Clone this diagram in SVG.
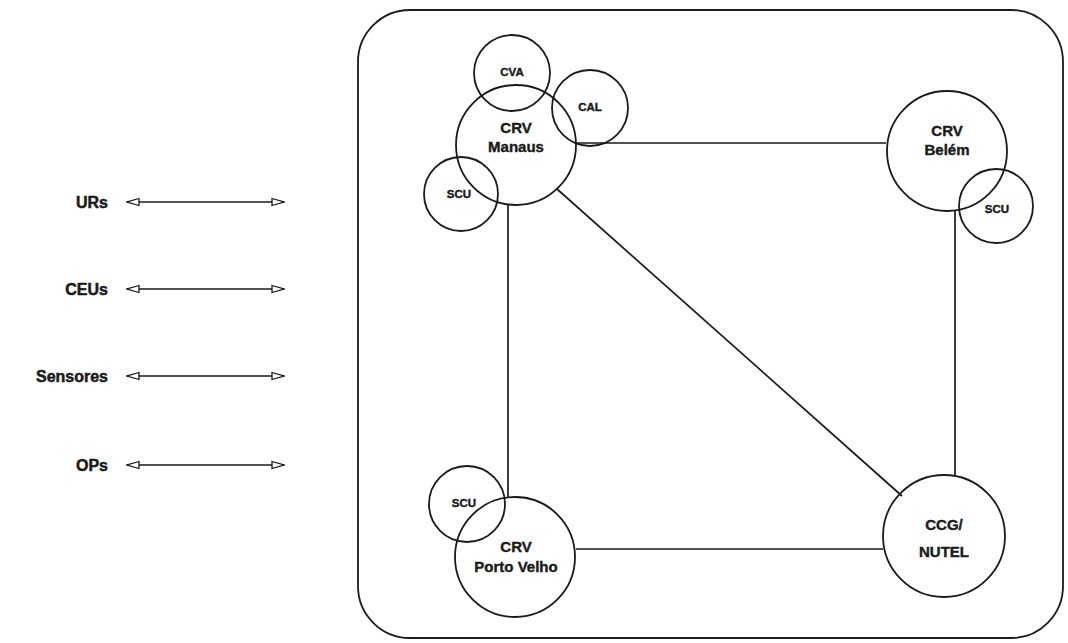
<svg xmlns="http://www.w3.org/2000/svg" width="1068" height="643" viewBox="0 0 1068 643">
<style>
.c{fill:none;stroke:#1a1a1a;stroke-width:1.8}
.l{stroke:#1a1a1a;stroke-width:1.7;fill:none}
.t{font-family:"Liberation Sans",Arial,sans-serif;font-weight:bold;fill:#1a1a1a;stroke:#1a1a1a;stroke-width:0.4;text-anchor:middle}
.big{font-size:15px}
.sm{font-size:11.5px}
.lab{font-family:"Liberation Sans",Arial,sans-serif;font-weight:bold;fill:#1a1a1a;stroke:#1a1a1a;stroke-width:0.5;text-anchor:end;font-size:16px}
</style>
<defs>
<marker id="ah" viewBox="0 0 14 10" refX="13" refY="5" markerWidth="14" markerHeight="10" markerUnits="userSpaceOnUse" orient="auto-start-reverse">
<path d="M1,1.5 L13,5 L1,8.5 Z" fill="#fff" stroke="#1a1a1a" stroke-width="1.3"/>
</marker>
</defs>
<rect x="358" y="10" width="705" height="628" rx="52" ry="52" fill="none" stroke="#1a1a1a" stroke-width="1.8"/>
<g id="connectors">
<line class="l" x1="577" y1="143" x2="886" y2="143"/>
<line class="l" x1="508" y1="204" x2="508" y2="498"/>
<line class="l" x1="557" y1="189" x2="902" y2="496"/>
<line class="l" x1="955" y1="210" x2="955" y2="476"/>
<line class="l" x1="576" y1="549" x2="883" y2="549"/>
<line class="l" x1="127" y1="202" x2="284" y2="202" marker-start="url(#ah)" marker-end="url(#ah)"/>
<line class="l" x1="127" y1="289" x2="284" y2="289" marker-start="url(#ah)" marker-end="url(#ah)"/>
<line class="l" x1="127" y1="376" x2="284" y2="376" marker-start="url(#ah)" marker-end="url(#ah)"/>
<line class="l" x1="127" y1="465" x2="284" y2="465" marker-start="url(#ah)" marker-end="url(#ah)"/>
</g>
<g id="legend">
<text class="lab" x="108" y="208">URs</text>
<text class="lab" x="108" y="295">CEUs</text>
<text class="lab" x="108" y="382">Sensores</text>
<text class="lab" x="108" y="471">OPs</text>
</g>
<g id="crv-manaus">
<circle class="c" cx="516" cy="145" r="60"/>
<text class="t big" x="516" y="133">CRV</text>
<text class="t big" x="516" y="152">Manaus</text>
</g>
<g id="cva">
<circle class="c" cx="512" cy="73" r="38"/>
<text class="t sm" x="512" y="76">CVA</text>
</g>
<g id="cal">
<circle class="c" cx="590" cy="108" r="38"/>
<text class="t sm" x="590" y="111">CAL</text>
</g>
<g id="scu-manaus">
<circle class="c" cx="461" cy="194" r="37"/>
<text class="t sm" x="459" y="198">SCU</text>
</g>
<g id="crv-belem">
<circle class="c" cx="947" cy="151" r="60"/>
<text class="t big" x="947" y="136">CRV</text>
<text class="t big" x="947" y="155">Belém</text>
</g>
<g id="scu-belem">
<circle class="c" cx="996" cy="206" r="37"/>
<text class="t sm" x="997" y="213">SCU</text>
</g>
<g id="ccg-nutel">
<circle class="c" cx="944" cy="536" r="61"/>
<text class="t big" x="944" y="530">CCG/</text>
<text class="t big" x="944" y="557">NUTEL</text>
</g>
<g id="crv-porto-velho">
<circle class="c" cx="515" cy="557" r="60"/>
<text class="t big" x="516" y="552">CRV</text>
<text class="t big" x="516" y="572">Porto Velho</text>
</g>
<g id="scu-porto-velho">
<circle class="c" cx="467" cy="504" r="38"/>
<text class="t sm" x="464" y="507">SCU</text>
</g>
</svg>
